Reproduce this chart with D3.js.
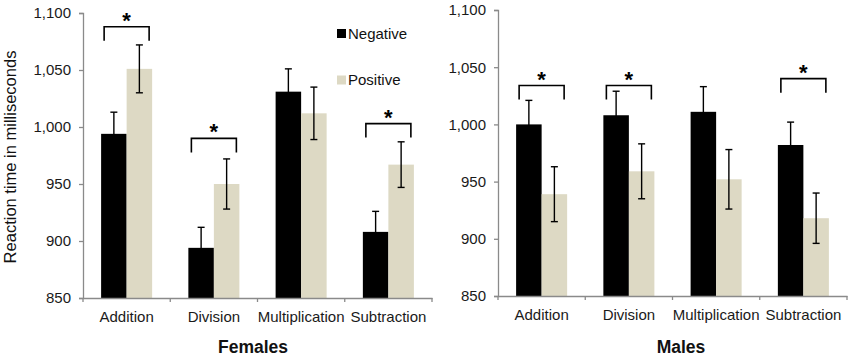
<!DOCTYPE html>
<html>
<head>
<meta charset="utf-8">
<script src="https://cdn.jsdelivr.net/npm/d3@7"></script>
<style>
  html, body { margin: 0; padding: 0; background: #fff; }
  svg { display: block; font-family: "Liberation Sans", Arial, sans-serif; }
</style>
</head>
<body>
<svg id="chart" width="851" height="357"></svg>
<script>
// ---- data ----
const categories = ["Addition", "Division", "Multiplication", "Subtraction"];
const seriesNames = ["Negative", "Positive"];
const yTicks = [850, 900, 950, 1000, 1050, 1100];

const femalesNegative    = [994, 894, 1031, 908];
const femalesNegativeErr = [19, 18, 20, 18];
const femalesPositive    = [1051, 950, 1012, 967];
const femalesPositiveErr = [21, 22, 23, 20];
const femalesSigCats     = ["Addition", "Division", "Subtraction"];
const femalesSigLevels   = [1088, 990, 1003];

const malesNegative    = [1000, 1008, 1011, 982];
const malesNegativeErr = [21, 21, 22, 20];
const malesPositive    = [939, 959, 952, 918];
const malesPositiveErr = [24, 24, 26, 22];
const malesSigCats     = ["Addition", "Division", "Subtraction"];
const malesSigLevels   = [1034, 1034, 1040];

const colors = { Negative: "#000000", Positive: "#DDD9C4" };

const svg = d3.select("#chart");

function drawPanel(opt) {
  const g = svg.append("g");
  const y = d3.scaleLinear().domain([850, 1100]).range([opt.bottom, opt.top]);
  const x0 = d3.scaleBand().domain(categories).range([opt.left, opt.right]).padding(0);
  const x1 = d3.scaleBand().domain(seriesNames).range([0, x0.bandwidth()])
    .paddingInner(0).paddingOuter(0.71);

  const rows = categories.map((c, i) => ({
    cat: c,
    vals: [
      { s: "Negative", v: opt.neg[i], e: opt.negErr[i] },
      { s: "Positive", v: opt.pos[i], e: opt.posErr[i] }
    ]
  }));

  // bars
  const grp = g.selectAll(".grp").data(rows).enter().append("g")
    .attr("transform", d => `translate(${x0(d.cat)},0)`);
  grp.selectAll("rect").data(d => d.vals).enter().append("rect")
    .attr("x", d => x1(d.s))
    .attr("width", x1.bandwidth())
    .attr("y", d => y(d.v))
    .attr("height", d => y(850) - y(d.v))
    .attr("fill", d => colors[d.s]);

  // error bars
  const eb = grp.selectAll(".eb").data(d => d.vals).enter().append("g")
    .attr("stroke", "#000").attr("stroke-width", 1.4).attr("fill", "none");
  eb.append("line")
    .attr("x1", d => x1(d.s) + x1.bandwidth() / 2)
    .attr("x2", d => x1(d.s) + x1.bandwidth() / 2)
    .attr("y1", d => y(d.v - d.e)).attr("y2", d => y(d.v + d.e));
  [1, -1].forEach(sign => {
    eb.append("line")
      .attr("x1", d => x1(d.s) + x1.bandwidth() / 2 - 3.5)
      .attr("x2", d => x1(d.s) + x1.bandwidth() / 2 + 3.5)
      .attr("y1", d => y(d.v + sign * d.e)).attr("y2", d => y(d.v + sign * d.e));
  });

  // y axis
  const yAxis = d3.axisLeft(y).tickValues(yTicks).tickSize(4).tickPadding(8)
    .tickFormat(d3.format(","));
  const ya = g.append("g").attr("transform", `translate(${opt.left},0)`).call(yAxis);
  ya.select(".domain").attr("stroke", "#8a8a8a").attr("stroke-width", 1.3);
  ya.selectAll(".tick line").attr("stroke", "#8a8a8a").attr("stroke-width", 1.3);
  ya.selectAll(".tick text").attr("font-size", "15px").attr("fill", "#1a1a1a")
    .attr("font-family", "Liberation Sans, Arial, sans-serif");

  // x axis
  const xAxis = d3.axisBottom(x0).tickSize(0).tickPadding(13);
  const xa = g.append("g").attr("transform", `translate(0,${opt.bottom})`).call(xAxis);
  xa.select(".domain").attr("stroke", "#8a8a8a").attr("stroke-width", 1.3);
  xa.selectAll(".tick text").attr("font-size", "15px").attr("fill", "#1a1a1a")
    .attr("font-family", "Liberation Sans, Arial, sans-serif");
  const bounds = categories.map(c => x0(c)).concat([x0(categories[categories.length - 1]) + x0.bandwidth()]);
  xa.selectAll(".bound").data(bounds).enter().append("line")
    .attr("x1", d => d).attr("x2", d => d).attr("y1", 0).attr("y2", 4)
    .attr("stroke", "#8a8a8a").attr("stroke-width", 1.3);

  // significance brackets
  opt.sigCats.forEach((c, i) => {
    const cx = x0(c) + x0.bandwidth() / 2;
    const yy = y(opt.sigLevels[i]);
    g.append("path")
      .attr("d", `M${cx - 22.5},${yy + 14}V${yy}H${cx + 22.5}V${yy + 14}`)
      .attr("fill", "none").attr("stroke", "#000").attr("stroke-width", 1.6);
    g.append("text").attr("x", cx).attr("y", yy + 1)
      .attr("text-anchor", "middle").attr("font-size", "22px").attr("font-weight", "bold")
      .text("*");
  });

  // panel title
  g.append("text").attr("x", opt.titleX).attr("y", 353)
    .attr("text-anchor", "middle").attr("font-size", "17.5px").attr("font-weight", "bold")
    .attr("fill", "#111").text(opt.title);
}

drawPanel({
  left: 83, right: 432, top: 13, bottom: 298,
  neg: femalesNegative, negErr: femalesNegativeErr,
  pos: femalesPositive, posErr: femalesPositiveErr,
  sigCats: femalesSigCats, sigLevels: femalesSigLevels,
  title: "Females", titleX: 253
});

drawPanel({
  left: 498, right: 847, top: 10, bottom: 296,
  neg: malesNegative, negErr: malesNegativeErr,
  pos: malesPositive, posErr: malesPositiveErr,
  sigCats: malesSigCats, sigLevels: malesSigLevels,
  title: "Males", titleX: 681
});

// y axis title
svg.append("text")
  .attr("transform", "translate(16,157) rotate(-90)")
  .attr("text-anchor", "middle").attr("font-size", "16.5px").attr("fill", "#111")
  .text("Reaction time in milliseconds");

// legend
const legendY = [33.5, 80];
const leg = svg.selectAll(".leg").data(seriesNames).enter().append("g")
  .attr("transform", (d, i) => `translate(337,${legendY[i]})`);
leg.append("rect").attr("x", 0).attr("y", -4.5).attr("width", 9).attr("height", 9)
  .attr("fill", d => colors[d]);
leg.append("text").attr("x", 11).attr("y", 5.2).attr("font-size", "15px")
  .attr("fill", "#111").text(d => d);
</script>
</body>
</html>
